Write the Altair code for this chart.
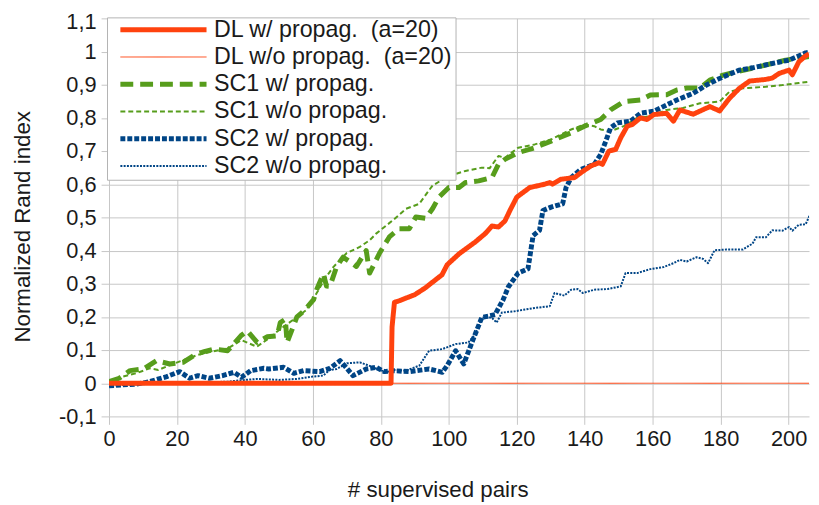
import altair as alt
import pandas as pd

# ---- data ----
series_names = [
    "DL w/ propag.\u00a0 (a=20)",
    "DL w/o propag.\u00a0 (a=20)",
    "SC1 w/ propag.",
    "SC1 w/o propag.",
    "SC2 w/ propag.",
    "SC2 w/o propag.",
]

dl_w_x = [0, 83, 83.3, 84, 85, 90, 93, 98, 99.5, 103, 107.8, 110.7, 112.7, 114.6, 116.5, 118, 120,
          123.8, 128.2, 129.7, 130.5, 133, 137, 138.9, 141.8, 144.2, 145.2, 147.1, 149.1, 150.6,
          152.5, 154, 156.4, 158.3, 160.3, 164.1, 166.1, 168, 171.9, 176.8, 179.7, 182.6, 185.5,
          188.5, 193.3, 195.2, 197.2, 200.1, 201.1, 203, 205, 206]
dl_w_y = [0, 0, 0.17, 0.244, 0.247, 0.267, 0.287, 0.327, 0.357, 0.39, 0.426, 0.451, 0.474, 0.471,
          0.489, 0.521, 0.561, 0.59, 0.60, 0.605, 0.60, 0.615, 0.62, 0.635, 0.655, 0.665, 0.66,
          0.70, 0.705, 0.74, 0.775, 0.78, 0.80, 0.795, 0.81, 0.814, 0.79, 0.824, 0.811, 0.834,
          0.821, 0.859, 0.889, 0.911, 0.916, 0.92, 0.934, 0.944, 0.93, 0.969, 0.987, 0.993]

dl_wo_x = [0, 206]
dl_wo_y = [0, 0]

sc1_w_x = [0, 3, 6.2, 10.1, 14, 17.9, 21.8, 25.7, 28, 31, 34.9, 38.8, 40.7, 43.6, 46.5, 49.5, 50.4,
           51.9, 52.4, 55.3, 57.3, 60.2, 61.1, 63.1, 64, 65, 67, 68.9, 71.8, 72.8, 75.7, 76.7, 77.7,
           79.6, 82.5, 85.4, 88.4, 90.3, 93.2, 95.2, 97.1, 100, 103, 104.9, 108.8, 112.7, 114.6,
           116.5, 120.4, 125.3, 130.1, 136, 139.9, 144.7, 147.6, 151.5, 156.4, 159.3, 164.1, 167.1,
           170, 173.9, 176.8, 180.7, 185.5, 189.4, 195.2, 199.1, 203, 206]
sc1_w_y = [0.005, 0.015, 0.038, 0.043, 0.068, 0.058, 0.063, 0.088, 0.095, 0.103, 0.098, 0.143,
           0.158, 0.123, 0.14, 0.143, 0.183, 0.193, 0.123, 0.2, 0.217, 0.252, 0.282, 0.33, 0.293,
           0.292, 0.352, 0.38, 0.36, 0.352, 0.40, 0.332, 0.352, 0.392, 0.441, 0.466, 0.466, 0.501,
           0.497, 0.526, 0.561, 0.59, 0.59, 0.605, 0.61, 0.62, 0.66, 0.675, 0.695, 0.71, 0.73,
           0.755, 0.775, 0.795, 0.824, 0.849, 0.854, 0.869, 0.87, 0.884, 0.89, 0.89, 0.914, 0.929,
           0.941, 0.95, 0.964, 0.974, 0.98, 0.985]

sc1_wo_x = [0, 4, 8, 12, 14.5, 18, 22, 26, 30, 35, 39, 43.5, 47, 50, 54, 58, 61, 64, 66, 69.9,
            73.8, 76.7, 78.6, 83.5, 87.4, 91.3, 95.2, 100, 104.9, 109.7, 112, 114.6, 116.5, 120.4,
            125.3, 130.1, 136, 139.9, 142.8, 144.7, 147.6, 151.5, 155.4, 159.3, 164, 168.9, 173.9,
            179.7, 182.6, 186.5, 193.3, 198.2, 203, 206]
sc1_wo_y = [0.0, 0.02, 0.03, 0.045, 0.04, 0.055, 0.07, 0.085, 0.095, 0.105, 0.13, 0.11, 0.135,
            0.16, 0.19, 0.22, 0.27, 0.322, 0.35, 0.392, 0.411, 0.431, 0.451, 0.491, 0.526, 0.541,
            0.596, 0.625, 0.64, 0.65, 0.648, 0.685, 0.68, 0.71, 0.72, 0.735, 0.765, 0.78, 0.775,
            0.765, 0.76, 0.775, 0.8, 0.805, 0.824, 0.83, 0.844, 0.849, 0.879, 0.889, 0.894, 0.899,
            0.905, 0.909]

sc2_w_x = [0, 4, 8, 12, 14, 17, 20.8, 23.7, 26.2, 29.5, 33.4, 36.8, 39, 41.7, 45.6, 47, 51.4,
           54.4, 57.3, 62, 65, 68, 70, 71.8, 75.7, 78.6, 81, 83.4, 88.4, 94.2, 98.1, 99.5, 102,
           104.4, 106.8, 109.7, 113.6, 116, 117.5, 120.4, 123.3, 124.8, 126.7, 127.7, 130.1, 133.5,
           134.5, 136, 138.9, 142.8, 144.7, 146.2, 147.6, 149.6, 153.5, 156.4, 160.3, 167.1, 171.9,
           175.8, 179.7, 185.5, 189.4, 195.2, 200.1, 205, 206]
sc2_w_y = [-0.008, -0.005, -0.003, 0.005, 0.011, 0.02, 0.035, 0.015, 0.023, 0.015, 0.023, 0.033,
           0.018, 0.038, 0.045, 0.043, 0.048, 0.03, 0.038, 0.035, 0.045, 0.068, 0.045, 0.023,
           0.043, 0.048, 0.035, 0.038, 0.035, 0.043, 0.033, 0.053, 0.098, 0.058, 0.123, 0.198,
           0.207, 0.252, 0.29, 0.332, 0.345, 0.445, 0.461, 0.521, 0.531, 0.541, 0.59, 0.62, 0.645,
           0.66, 0.69, 0.73, 0.77, 0.785, 0.79, 0.814, 0.82, 0.854, 0.874, 0.899, 0.919, 0.944,
           0.951, 0.964, 0.974, 0.996, 0.998]

sc2_wo_x = [0, 5, 10, 15, 20, 25, 30, 35, 40, 43.6, 50, 55.3, 60, 63, 65, 67, 70, 73.8, 76, 78.6,
            81.5, 84, 87.4, 91.3, 94.2, 98.1, 102, 105.8, 107.8, 109.7, 112.6, 114.1, 115.6, 119.4,
            125.3, 129.7, 131.1, 134, 136, 137.9, 139.4, 142.8, 146.7, 150.6, 152, 155.4, 159.3,
            163.2, 166.1, 168, 170, 172.9, 174.8, 176.3, 178.2, 181.6, 186.5, 189.4, 190.4, 193.3,
            195.2, 198.2, 200.1, 201.1, 203, 205, 206.4]
sc2_wo_y = [-0.008, -0.005, -0.003, 0.0, 0.002, 0.0, 0.003, 0.005, 0.01, 0.013, 0.01, 0.013,
            0.02, 0.023, 0.04, 0.043, 0.06, 0.063, 0.055, 0.045, 0.033, 0.04, 0.038, 0.053, 0.098,
            0.103, 0.118, 0.123, 0.148, 0.198, 0.198, 0.183, 0.213, 0.217, 0.227, 0.232, 0.272,
            0.264, 0.282, 0.284, 0.272, 0.282, 0.284, 0.292, 0.332, 0.332, 0.344, 0.35, 0.362,
            0.372, 0.367, 0.38, 0.375, 0.362, 0.401, 0.403, 0.403, 0.421, 0.44, 0.44, 0.461, 0.46,
            0.471, 0.46, 0.478, 0.479, 0.511]

x_ticks = list(range(0, 201, 20))
y_ticks = [round(-0.1 + 0.1 * i, 1) for i in range(13)]

# draw order (bottom to top)
draw_order = [
    (series_names[3], sc1_wo_x, sc1_wo_y),
    (series_names[2], sc1_w_x, sc1_w_y),
    (series_names[5], sc2_wo_x, sc2_wo_y),
    (series_names[4], sc2_w_x, sc2_w_y),
    (series_names[1], dl_wo_x, dl_wo_y),
    (series_names[0], dl_w_x, dl_w_y),
]
rows = []
for name, xs, ys in draw_order:
    for xv, yv in zip(xs, ys):
        rows.append({"series": name, "x": xv, "y": yv})
df = pd.DataFrame(rows)

RED = "#ff420e"
GREEN = "#579d1c"
BLUE = "#004586"
colors = [RED, RED, GREEN, GREEN, BLUE, BLUE]
dashes = [[1, 0], [1, 0], [13, 7], [5, 3], [5, 2], [2, 1.3]]
widths = [5, 1, 5, 2, 5, 2]

FONT = "Liberation Sans"
GRID = "#c6c6c6"
TXT = "#1a1a1a"

chart = alt.Chart(df).mark_line(clip=True, strokeCap="butt", strokeJoin="round").encode(
    x=alt.X("x:Q",
            scale=alt.Scale(domain=[0, 206], nice=False, zero=False),
            axis=alt.Axis(values=x_ticks, title="# supervised pairs", format="d",
                          titleX=332)),
    y=alt.Y("y:Q",
            scale=alt.Scale(domain=[-0.1, 1.1], nice=False, zero=False),
            axis=alt.Axis(values=y_ticks, title="Normalized Rand index",
                          titleY=210,
                          labelOffset=alt.ConditionalAxisNumber(
                              condition={"test": "datum.value > 1.05", "value": 3}, value=0),
                          labelExpr="replace(replace(format(datum.value, '.1~f'), '.', ','), '\u2212', '-')")),
    color=alt.Color("series:N", scale=alt.Scale(domain=series_names, range=colors),
                    title=None),
    strokeDash=alt.StrokeDash("series:N", scale=alt.Scale(domain=series_names, range=dashes),
                              title=None),
    strokeWidth=alt.StrokeWidth("series:N",
                                scale=alt.Scale(type="ordinal", domain=series_names, range=widths),
                                title=None),
).properties(
    width=707,
    height=402,
    autosize=alt.AutoSizeParams(type="none"),
    padding={"left": 102, "top": 8, "right": 2, "bottom": 87},
).configure_view(
    stroke=None
).configure_axis(
    labelFont=FONT, titleFont=FONT,
    labelFontSize=22, titleFontSize=22.5,
    labelColor=TXT, titleColor=TXT,
    titleFontWeight="normal",
    gridColor=GRID, gridWidth=1, gridOpacity=1,
    tickColor=GRID, tickSize=8, tickWidth=1,
    domain=False, labelPadding=4,
).configure_axisY(
    titlePadding=24, labelPadding=5,
).configure_axisX(
    titlePadding=30, labelFlush=False, labelOverlap=False,
).configure_legend(
    orient="none", legendX=-2, legendY=-1,
    padding=2, symbolOffset=9,
    symbolType="stroke", symbolSize=7569,
    clipHeight=21, rowPadding=3.5,
    labelFont=FONT, labelFontSize=23.5, labelColor=TXT,
    labelOffset=5, labelLimit=500,
    strokeColor="#b3b3b3", fillColor="white",
)

chart.save("out.html", embed_options={"renderer": "svg", "actions": False})
